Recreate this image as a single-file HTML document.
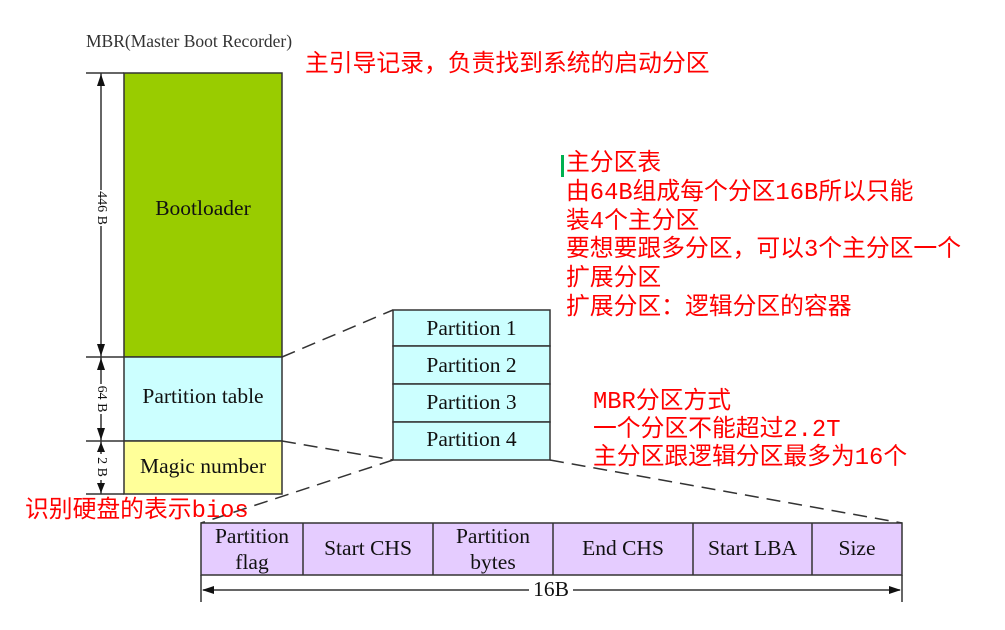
<!DOCTYPE html>
<html><head><meta charset="utf-8"><style>
body{margin:0;width:1005px;height:630px;background:#fff;position:relative;overflow:hidden;font-family:"Liberation Serif",serif;}
.r{position:absolute;color:#f00;font-family:"Liberation Mono","Noto Sans CJK SC",monospace;font-size:23.8px;line-height:28.8px;white-space:nowrap;}
.t{position:absolute;font-size:21.5px;color:#111;text-align:center;white-space:nowrap;}
</style></head><body>
<svg width="1005" height="630" style="position:absolute;left:0;top:0">
<g stroke="#333" stroke-width="1.5">
<rect x="124" y="73" width="158" height="284" fill="#99cc00"/>
<rect x="124" y="357" width="158" height="84" fill="#ccffff"/>
<rect x="124" y="441" width="158" height="53" fill="#ffff99"/>
<line x1="86" y1="73" x2="124" y2="73"/>
<line x1="86" y1="357" x2="124" y2="357"/>
<line x1="86" y1="441" x2="124" y2="441"/>
<line x1="86" y1="494" x2="124" y2="494"/>
<line x1="101" y1="73" x2="101" y2="494"/>
<rect x="393" y="310" width="157" height="36" fill="#ccffff"/>
<rect x="393" y="346" width="157" height="38" fill="#ccffff"/>
<rect x="393" y="384" width="157" height="38" fill="#ccffff"/>
<rect x="393" y="422" width="157" height="38" fill="#ccffff"/>
<rect x="201" y="523" width="701" height="52" fill="#e5ccff"/>
<line x1="303" y1="523" x2="303" y2="575"/>
<line x1="433" y1="523" x2="433" y2="575"/>
<line x1="553" y1="523" x2="553" y2="575"/>
<line x1="693" y1="523" x2="693" y2="575"/>
<line x1="812" y1="523" x2="812" y2="575"/>
<line x1="201" y1="575" x2="201" y2="602"/>
<line x1="902" y1="575" x2="902" y2="602"/>
<line x1="203" y1="590" x2="900" y2="590"/>
</g>
<g fill="#111">
<polygon points="101,74 97,86 105,86"/><polygon points="101,356 97,344 105,344"/>
<polygon points="101,358 97,370 105,370"/><polygon points="101,440 97,428 105,428"/>
<polygon points="101,442 97,452 105,452"/><polygon points="101,493 97,483 105,483"/>
<polygon points="202,590 214,586 214,594"/><polygon points="901,590 889,586 889,594"/>
</g>
<g stroke="#333" stroke-width="1.5" stroke-dasharray="14,8" fill="none">
<line x1="282" y1="357" x2="393" y2="310"/>
<line x1="282" y1="441" x2="393" y2="460"/>
<line x1="393" y1="460" x2="201" y2="523"/>
<line x1="550" y1="460" x2="902" y2="523"/>
</g>
<rect x="561" y="155" width="3" height="22" fill="#00b050"/>
</svg>
<div style="position:absolute;left:86px;top:31px;font-size:17.5px;color:#333;">MBR(Master Boot Recorder)</div>
<div class="t" style="left:124px;width:158px;top:196px;">Bootloader</div>
<div class="t" style="left:124px;width:158px;top:384px;">Partition table</div>
<div class="t" style="left:124px;width:158px;top:454px;">Magic number</div>
<div class="t" style="left:83px;width:36px;top:200px;font-size:14px;background:#fff;transform:rotate(90deg);">446 B</div>
<div class="t" style="left:86px;width:30px;top:391px;font-size:14px;background:#fff;transform:rotate(90deg);">64 B</div>
<div class="t" style="left:88px;width:26px;top:459px;font-size:14px;background:#fff;transform:rotate(90deg);">2 B</div>
<div class="t" style="left:393px;width:157px;top:316px;">Partition 1</div>
<div class="t" style="left:393px;width:157px;top:353px;">Partition 2</div>
<div class="t" style="left:393px;width:157px;top:390px;">Partition 3</div>
<div class="t" style="left:393px;width:157px;top:427px;">Partition 4</div>
<div class="t" style="left:201px;width:102px;top:523px;line-height:26px;">Partition<br>flag</div>
<div class="t" style="left:303px;width:130px;top:536px;">Start CHS</div>
<div class="t" style="left:433px;width:120px;top:523px;line-height:26px;">Partition<br>bytes</div>
<div class="t" style="left:553px;width:140px;top:536px;">End CHS</div>
<div class="t" style="left:693px;width:119px;top:536px;">Start LBA</div>
<div class="t" style="left:812px;width:90px;top:536px;">Size</div>
<div class="t" style="left:529px;width:44px;top:577px;background:#fff;">16B</div>
<div class="r" style="left:305px;top:52px;">主引导记录，负责找到系统的启动分区</div>
<div class="r" style="left:566px;top:151px;">主分区表<br>由64B组成每个分区16B所以只能<br>装4个主分区<br>要想要跟多分区，可以3个主分区一个<br>扩展分区<br>扩展分区：逻辑分区的容器</div>
<div class="r" style="left:593px;top:389px;line-height:28px;">MBR分区方式<br>一个分区不能超过2.2T<br>主分区跟逻辑分区最多为16个</div>
<div class="r" style="left:25px;top:498px;">识别硬盘的表示bios</div>
</body></html>
